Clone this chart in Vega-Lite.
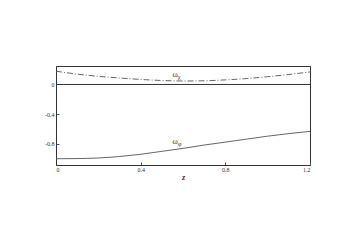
{
  "$schema": "https://vega.github.io/schema/vega-lite/v6.json",
  "autosize": "none",
  "width": 254,
  "height": 99,
  "padding": {"left": 56, "top": 66, "right": 50, "bottom": 86},
  "background": "white",
  "config": {
    "view": {"stroke": "#333", "strokeWidth": 1},
    "axis": {"grid": false, "labelFont": "Liberation Serif", "titleFont": "Liberation Serif", "domainColor": "#333", "tickColor": "#555", "labelColor": "#333", "titleColor": "#333"}
  },
  "datasets": {
    "curves": [
      {"z": 0.0, "v": -1.005, "s": "phi"}, {"z": 0.1, "v": -1.003, "s": "phi"}, {"z": 0.2, "v": -0.995, "s": "phi"},
      {"z": 0.3, "v": -0.975, "s": "phi"}, {"z": 0.4, "v": -0.945, "s": "phi"}, {"z": 0.5, "v": -0.905, "s": "phi"},
      {"z": 0.6, "v": -0.865, "s": "phi"}, {"z": 0.7, "v": -0.82, "s": "phi"}, {"z": 0.8, "v": -0.78, "s": "phi"},
      {"z": 0.9, "v": -0.74, "s": "phi"}, {"z": 1.0, "v": -0.70, "s": "phi"}, {"z": 1.1, "v": -0.665, "s": "phi"},
      {"z": 1.2, "v": -0.635, "s": "phi"},
      {"z": 0.0, "v": 0.18, "s": "chi"}, {"z": 0.1, "v": 0.14, "s": "chi"}, {"z": 0.2, "v": 0.11, "s": "chi"},
      {"z": 0.3, "v": 0.088, "s": "chi"}, {"z": 0.4, "v": 0.068, "s": "chi"}, {"z": 0.5, "v": 0.054, "s": "chi"},
      {"z": 0.6, "v": 0.047, "s": "chi"}, {"z": 0.7, "v": 0.05, "s": "chi"}, {"z": 0.8, "v": 0.062, "s": "chi"},
      {"z": 0.9, "v": 0.08, "s": "chi"}, {"z": 1.0, "v": 0.105, "s": "chi"}, {"z": 1.1, "v": 0.135, "s": "chi"},
      {"z": 1.2, "v": 0.17, "s": "chi"}
    ],
    "labels": [
      {"z": 0.575, "v": 0.125, "t": "ω", "sub": "χ"},
      {"z": 0.575, "v": -0.78, "t": "ω", "sub": "φ"}
    ]
  },
  "layer": [
    {
      "data": {"values": [{"v": 0}]},
      "mark": {"type": "rule", "color": "#333", "strokeWidth": 1},
      "encoding": {"y": {"field": "v", "type": "quantitative", "scale": {"domain": [-1.09, 0.25]}}}
    },
    {
      "data": {"name": "curves"},
      "transform": [{"filter": "datum.s == 'chi'"}],
      "mark": {"type": "line", "color": "#555", "strokeWidth": 0.9, "strokeDash": [6, 2, 1, 2], "interpolate": "monotone"},
      "encoding": {
        "x": {"field": "z", "type": "quantitative", "scale": {"domain": [0, 1.2], "nice": false},
          "axis": {"title": "z", "titleFontSize": 8, "titleFontStyle": "italic", "titlePadding": 1, "values": [0, 0.4, 0.8, 1.2], "labelFontSize": 6, "tickSize": -3, "labelPadding": 4, "labelExpr": "datum.value == 0 ? '0' : format(datum.value, '.1f')"}},
        "y": {"field": "v", "type": "quantitative", "scale": {"domain": [-1.09, 0.25], "nice": false},
          "axis": {"title": null, "values": [0, -0.4, -0.8], "labelFontSize": 6, "tickSize": -3, "labelPadding": 5, "labelExpr": "datum.value == 0 ? '0' : replace(format(datum.value, '.1f'), '\u2212', '-')"}}
      }
    },
    {
      "data": {"name": "curves"},
      "transform": [{"filter": "datum.s == 'phi'"}],
      "mark": {"type": "line", "color": "#555", "strokeWidth": 0.9, "interpolate": "monotone"},
      "encoding": {
        "x": {"field": "z", "type": "quantitative"},
        "y": {"field": "v", "type": "quantitative"}
      }
    },
    {
      "data": {"name": "labels"},
      "mark": {"type": "text", "font": "Liberation Serif", "fontSize": 8, "color": "#333", "align": "right"},
      "encoding": {
        "x": {"field": "z", "type": "quantitative"},
        "y": {"field": "v", "type": "quantitative"},
        "text": {"field": "t"}
      }
    },
    {
      "data": {"name": "labels"},
      "mark": {"type": "text", "font": "Liberation Serif", "fontSize": 6.5, "color": "#333", "align": "left", "dy": 2},
      "encoding": {
        "x": {"field": "z", "type": "quantitative"},
        "y": {"field": "v", "type": "quantitative"},
        "text": {"field": "sub"}
      }
    }
  ]
}
